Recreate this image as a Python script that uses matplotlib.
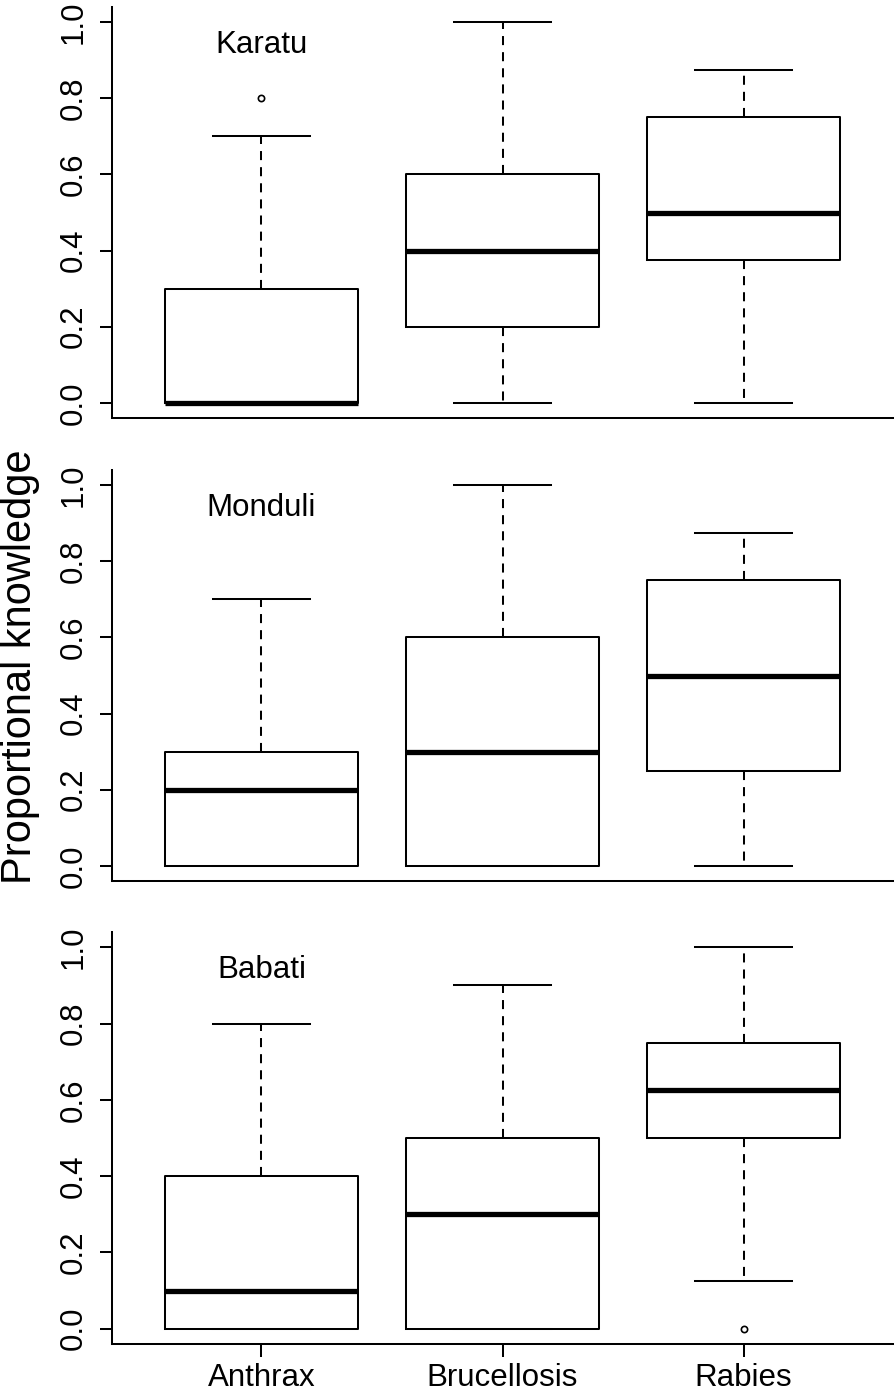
import matplotlib
matplotlib.use("Agg")
import matplotlib.pyplot as plt

plt.rcParams['font.family'] = ['Liberation Sans', 'DejaVu Sans']

diseases = ["Anthrax", "Brucellosis", "Rabies"]
sites = ["Karatu", "Monduli", "Babati"]

# five-number summaries per site: [Anthrax, Brucellosis, Rabies]
whislo = {"Karatu": [0.0, 0.0, 0.0], "Monduli": [0.0, 0.0, 0.0], "Babati": [0.0, 0.0, 0.125]}
q1 = {"Karatu": [0.0, 0.2, 0.375], "Monduli": [0.0, 0.0, 0.25], "Babati": [0.0, 0.0, 0.5]}
med = {"Karatu": [0.0, 0.4, 0.5], "Monduli": [0.2, 0.3, 0.5], "Babati": [0.1, 0.3, 0.625]}
q3 = {"Karatu": [0.3, 0.6, 0.75], "Monduli": [0.3, 0.6, 0.75], "Babati": [0.4, 0.5, 0.75]}
whishi = {"Karatu": [0.7, 1.0, 0.875], "Monduli": [0.7, 1.0, 0.875], "Babati": [0.8, 0.9, 1.0]}
fliers = {"Karatu": [[0.8], [], []], "Monduli": [[], [], []], "Babati": [[], [], [0.0]]}

yticks = [0.0, 0.2, 0.4, 0.6, 0.8, 1.0]
ytick_labels = ["0.0", "0.2", "0.4", "0.6", "0.8", "1.0"]

W, H = 896, 1391
fig = plt.figure(figsize=(W / 100, H / 100), dpi=100)

# axes boxes in pixels: (top, bottom)
panel_px = [(7, 418), (470, 881), (932, 1344)]
left_px, right_px = 112, 893

lw = 1.45
for i, site in enumerate(sites):
    top, bot = panel_px[i]
    ax = fig.add_axes([left_px / W, 1 - bot / H, (right_px - left_px) / W, (bot - top) / H])
    stats = []
    for j, d in enumerate(diseases):
        stats.append({"label": d, "med": med[site][j], "q1": q1[site][j], "q3": q3[site][j],
                      "whislo": whislo[site][j], "whishi": whishi[site][j],
                      "fliers": fliers[site][j]})
    ax.bxp(stats, positions=[1, 2, 3], widths=0.8, patch_artist=False,
           boxprops=dict(color="black", linewidth=lw),
           whiskerprops=dict(color="black", linewidth=lw, linestyle=(0, (4.5, 3.5))),
           capprops=dict(color="black", linewidth=lw),
           medianprops=dict(color="black", linewidth=3.8, solid_capstyle="butt"),
           flierprops=dict(marker="o", markersize=4.5, markerfacecolor="white",
                           markeredgecolor="black", markeredgewidth=1.2))
    ax.set_xlim(0.38, 3.62)
    ax.set_ylim(-0.04, 1.04)
    for s in ["top", "right"]:
        ax.spines[s].set_visible(False)
    for s in ["left", "bottom"]:
        ax.spines[s].set_linewidth(lw)
    ax.set_yticks(yticks)
    ax.set_yticklabels(ytick_labels, rotation=90, va="center")
    ax.tick_params(axis="y", length=9, width=lw, labelsize=22.5, pad=8)
    ax.set_xticks([1, 2, 3])
    if i == len(sites) - 1:
        ax.set_xticklabels(diseases)
        ax.tick_params(axis="x", length=9.5, width=lw, labelsize=22.5, pad=4)
    else:
        ax.set_xticklabels([])
        ax.tick_params(axis="x", length=0)
    ax.text(1, 0.94, site, ha="center", va="center", fontsize=22.5)

fig.text(20 / W, 1 - 667 / H, "Proportional knowledge", rotation=90,
         ha="center", va="center", fontsize=30)

fig.savefig("out.png", dpi=100)
